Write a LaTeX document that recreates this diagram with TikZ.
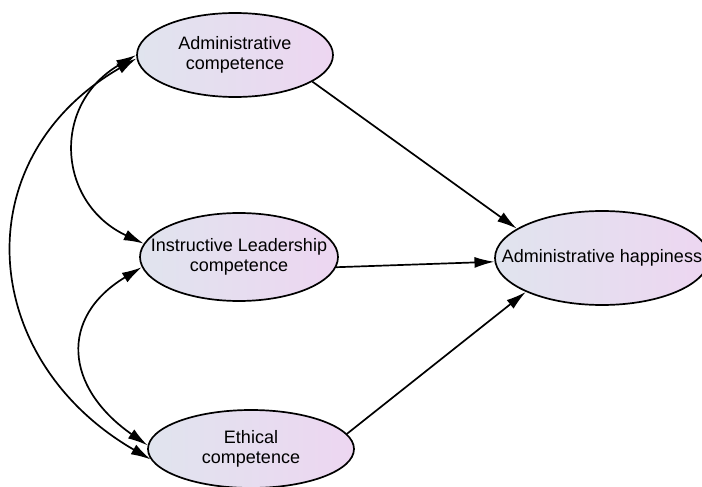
\documentclass[tikz,border=0pt]{standalone}
\usepackage{fontspec}
\setmainfont{Liberation Sans}
\usetikzlibrary{shapes.geometric,arrows.meta}
\definecolor{lcol}{RGB}{224,228,238}
\definecolor{rcol}{RGB}{237,214,241}
\begin{document}
\begin{tikzpicture}[x=1pt,y=-1pt,
  lat/.style={ellipse, draw=black, line width=1.7pt, left color=lcol, right color=rcol,
    inner xsep=-40pt, inner ysep=-20pt, align=center, font=\fontsize{18}{20}\selectfont},
  conn/.style={line width=1.7pt, -{Latex[length=20pt,width=11pt]}},
  cov/.style={line width=1.7pt, {Latex[length=20pt,width=11pt]}-{Latex[length=20pt,width=11pt]}}]
\useasboundingbox (0,0) rectangle (702,487);
\fill[white] (0,0) rectangle (702,487);
\node[lat, minimum width=196pt, minimum height=84pt] (adm) at (235,55) {Administrative\\competence};
\node[lat, minimum width=198pt, minimum height=88pt] (ins) at (239,257) {Instructive Leadership\\competence};
\node[lat, minimum width=206pt, minimum height=78pt] (eth) at (251,449) {Ethical\\competence};
\node[lat, minimum width=214pt, minimum height=94pt] (hap) at (602,258) {Administrative happiness};
\draw[conn] (adm.-19) -- (hap.161);
\draw[conn] (ins.-6) -- (hap.182);
\draw[conn] (eth.9) -- (hap.-156);
\draw[cov] (adm.west) .. controls +(-86,50) and +(-86,-40) .. (ins.172);
\draw[cov] (ins.186) .. controls +(-83,50) and +(-83,-58) .. (eth.178);
\draw[cov] (adm.182) .. controls +(-173,100) and +(-173,-100) .. (eth.186);
\end{tikzpicture}
\end{document}
